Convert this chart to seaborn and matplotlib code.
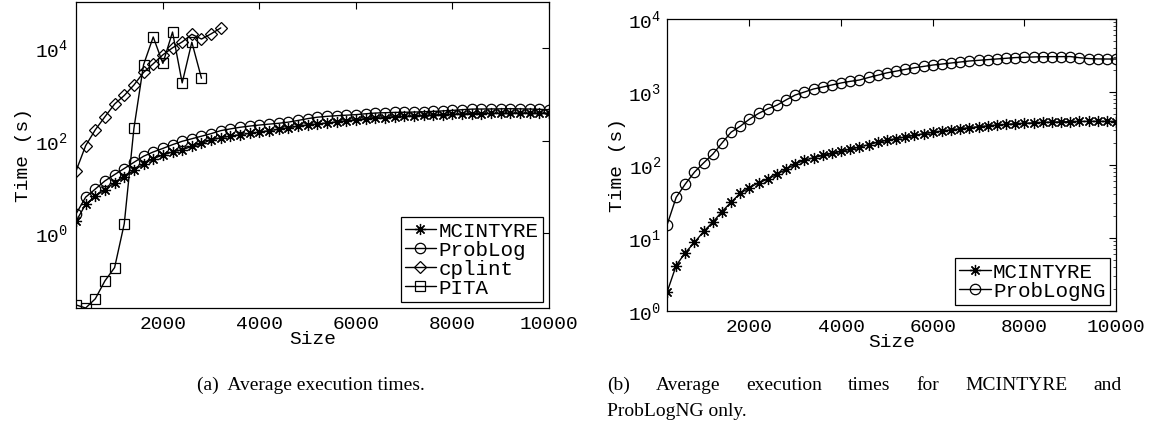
import numpy as np
import pandas as pd
import matplotlib
matplotlib.use("Agg")
import matplotlib.pyplot as plt
import seaborn as sns
from matplotlib.ticker import FixedLocator, FuncFormatter, LogLocator, NullLocator, NullFormatter

# ---------------- data ----------------
sizes = [200, 400, 600, 800, 1000, 1200, 1400, 1600, 1800, 2000,
         2200, 2400, 2600, 2800, 3000, 3200, 3400, 3600, 3800, 4000,
         4200, 4400, 4600, 4800, 5000, 5200, 5400, 5600, 5800, 6000,
         6200, 6400, 6600, 6800, 7000, 7200, 7400, 7600, 7800, 8000,
         8200, 8400, 8600, 8800, 9000, 9200, 9400, 9600, 9800, 10000]

mcintyre = [1.8, 4.2, 6.3, 8.7, 12.3, 16.5, 23, 31, 41, 49,
            57, 64, 75, 87, 104, 116, 126, 135, 144, 154,
            165, 176, 190, 205, 218, 230, 242, 255, 268, 280,
            292, 303, 314, 325, 335, 344, 352, 360, 367, 373,
            378, 383, 387, 390, 393, 395, 396, 396, 395, 394]

problog = [2.6, 6, 9, 13.5, 18.5, 25, 34, 46, 57, 68,
           82, 97, 110, 125, 142, 165, 180, 195, 207, 218,
           228, 238, 252, 274, 300, 322, 336, 347, 356, 366,
           382, 396, 403, 409, 412, 416, 422, 430, 441, 452,
           468, 482, 484, 485, 488, 491, 488, 484, 476, 468]

cplint_sizes = [200, 400, 600, 800, 1000, 1200, 1400, 1600,
                1800, 2000, 2200, 2400, 2600, 2800, 3000, 3200]
cplint = [22, 78, 172, 330, 620, 950, 1600, 3000,
          4600, 7200, 10200, 13700, 20000, 15800, 20500, 27500]

pita_sizes = [200, 400, 600, 800, 1000, 1200, 1400,
              1600, 1800, 2000, 2200, 2400, 2600, 2800]
pita = [0.028, 0.024, 0.038, 0.093, 0.18, 1.6, 185,
        4400, 17500, 4700, 22400, 1780, 13500, 2240]

problogng = [15, 36, 55, 80, 107, 141, 200, 282, 340, 425,
             510, 590, 660, 780, 910, 1000, 1100, 1170, 1250, 1330,
             1400, 1460, 1580, 1700, 1830, 1930, 2040, 2150, 2240, 2340,
             2415, 2495, 2575, 2660, 2715, 2775, 2835, 2895, 2960, 2990,
             3020, 3040, 3050, 3050, 3060, 2950, 2870, 2840, 2830, 2830]

x_ticks = [2000, 4000, 6000, 8000, 10000]
left_yticks = [1, 1e2, 1e4]

caption_a = "(a)  Average execution times."
caption_b_line1 = ["(b)", "Average", "execution", "times", "for", "MCINTYRE", "and"]
caption_b_line2 = "ProbLogNG only."

# ---------------- style ----------------
sns.set_theme(style="white")
plt.rcParams["font.family"] = ["Liberation Mono", "DejaVu Sans Mono"]
plt.rcParams["axes.edgecolor"] = "black"
plt.rcParams["axes.linewidth"] = 0.9

W, H = 1154, 428
fig = plt.figure(figsize=(W / 100, H / 100), dpi=100)
axL = fig.add_axes([76 / W, 1 - 308 / H, 473 / W, 306 / H])
axR = fig.add_axes([667 / W, 1 - 311 / H, 449 / W, 292 / H])

star = (8, 2, 0)
common = dict(color="black", linewidth=1.0, markeredgecolor="black",
              markeredgewidth=0.9)


def line(ax, x, y, name, marker, ms, mfc="none"):
    df = pd.DataFrame({"Size": x, "Time": y})
    sns.lineplot(data=df, x="Size", y="Time", ax=ax, marker=marker,
                 markersize=ms, markerfacecolor=mfc, label=name,
                 errorbar=None, sort=False, **common)


line(axL, sizes, mcintyre, "MCINTYRE", star, 8, mfc="black")
line(axL, sizes, problog, "ProbLog", "o", 7.5)
line(axL, cplint_sizes, cplint, "cplint", "D", 6.5)
line(axL, pita_sizes, pita, "PITA", "s", 6.5)

line(axR, sizes, mcintyre, "MCINTYRE", star, 8, mfc="black")
line(axR, sizes, problogng, "ProbLogNG", "o", 7.5)


def fmt(v, p):
    return r"$\mathdefault{10^{%d}}$" % int(round(np.log10(v)))


for ax in (axL, axR):
    ax.set_yscale("log")
    ax.set_xlim(200, 10000)
    ax.xaxis.set_major_locator(FixedLocator(x_ticks))
    ax.yaxis.set_major_formatter(FuncFormatter(fmt))
    ax.tick_params(axis="both", which="major", direction="in", top=True,
                   right=True, length=5, width=0.8, labelsize=14,
                   colors="black", pad=6)
    ax.tick_params(axis="both", which="minor", direction="in", top=True,
                   right=True, length=2.5, width=0.6)
    ax.set_xlabel("Size", fontsize=14, labelpad=-2, color="black")
    ax.set_ylabel("Time (s)", fontsize=14, labelpad=2, color="black")
    for s in ax.spines.values():
        s.set_visible(True)
        s.set_color("black")
    ax.grid(False)

axL.set_ylim(0.024, 1e5)
axL.yaxis.set_major_locator(FixedLocator(left_yticks))
axL.yaxis.set_minor_locator(NullLocator())

axR.set_ylim(1, 1e4)
axR.yaxis.set_major_locator(LogLocator(base=10))
axR.yaxis.set_minor_locator(LogLocator(base=10, subs=np.arange(2, 10)))
axR.yaxis.set_minor_formatter(NullFormatter())
axR.tick_params(axis="y", which="major", pad=4)

leg_kw = dict(loc="lower right", fontsize=15, handlelength=1.5,
              handletextpad=0.12, labelspacing=0.0, borderpad=0.2,
              borderaxespad=0.3, fancybox=False, framealpha=1,
              edgecolor="black", numpoints=1)
for ax in (axL, axR):
    lg = ax.legend(**leg_kw)
    lg.get_frame().set_linewidth(0.9)
    for t in lg.get_texts():
        t.set_color("black")

# ---------------- captions ----------------
serif = dict(family=["Liberation Serif", "DejaVu Serif"], fontsize=14,
             color="black", va="baseline")
fig.text(311 / W, 1 - 390 / H, caption_a, ha="center", **serif)

xl, xr = 607, 1122
words = [fig.text(xl / W, 1 - 390 / H, w, ha="left", **serif)
         for w in caption_b_line1]
fig.canvas.draw()
rend = fig.canvas.get_renderer()
widths = [t.get_window_extent(rend).width for t in words]
gap = (xr - xl - sum(widths)) / (len(words) - 1)
xpos = xl
for t, w in zip(words, widths):
    t.set_x(xpos / W)
    xpos += w + gap
fig.text(xl / W, 1 - 416 / H, caption_b_line2, ha="left", **serif)

fig.savefig("out.png", dpi=100, facecolor="white")
